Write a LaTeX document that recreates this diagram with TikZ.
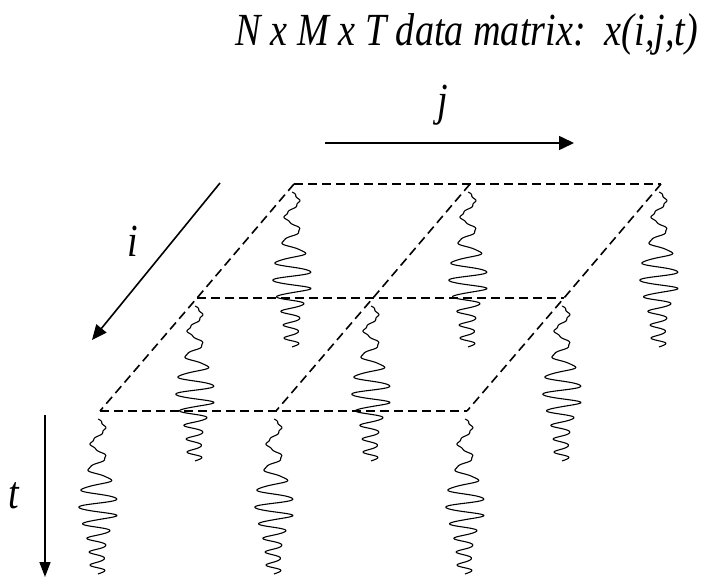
\documentclass[tikz,border=0pt]{standalone}
\usepackage{fontspec}
\setmainfont{Liberation Serif}
\usetikzlibrary{arrows.meta}
\begin{document}
\begin{tikzpicture}[x=1pt,y=-1pt,
  declare function={env(\s)=7+13*exp(-(\s-0.55)*(\s-0.55)/0.035);
                    ph(\s)=360*(4*\s+4.5*\s*\s);},
  griddash/.style={dash pattern=on 9pt off 5pt, line width=1.6pt},
  axisline/.style={line width=1.6pt},
  lab/.style={font=\fontsize{46}{55}\selectfont\itshape, inner sep=0pt, xscale=0.83, anchor=base},
  sig/.style={line width=1.1pt, line join=round}]
\useasboundingbox (0,0) rectangle (702,578);
% grid vertices
\coordinate (v00) at (294,184);
\coordinate (v01) at (470,184);
\coordinate (v02) at (661,184);
\coordinate (v10) at (197,298);
\coordinate (v11) at (373,298);
\coordinate (v12) at (564,298);
\coordinate (v20) at (100,411);
\coordinate (v21) at (276,411);
\coordinate (v22) at (467,411);
% signals
\foreach \v in {v00,v01,v02,v10,v11,v12,v20,v21,v22}{
  \draw[sig, shift={(\v)}] plot[domain=0:1, samples=260, variable=\s, smooth]
   ({-2 + env(\s)*sin(ph(\s)) + 1.0*sin(360*23*\s)}, {8+155*\s});
}
% dashed grid
\draw[griddash] (v00) -- (v01) -- (v02);
\draw[griddash] (v10) -- (v11) -- (v12);
\draw[griddash] (v20) -- (v21) -- (v22);
\draw[griddash] (v00) -- (v10) -- (v20);
\draw[griddash] (v01) -- (v11) -- (v21);
\draw[griddash] (v02) -- (v12) -- (v22);
% axes
\coordinate (ja) at (325,143); \coordinate (jb) at (574,143);
\coordinate (ia) at (220,183); \coordinate (ib) at (92,340);
\coordinate (ta) at (45,415);  \coordinate (tb) at (45,577);
\draw[axisline,-{Triangle[length=15pt,width=14pt]}] (ja) -- (jb);
\draw[axisline,-{Triangle[length=15pt,width=13pt]}] (ia) -- (ib);
\draw[axisline,-{Triangle[length=15pt,width=11pt]}] (ta) -- (tb);
% labels
\node[lab] (title) at (467,46) {N x M x T data matrix:\ \ x(i,j,t)};
\node[lab] (jlab) at (443,116) {j};
\node[lab] (ilab) at (133,256) {i};
\node[lab] (tlab) at (14,508) {t};
\end{tikzpicture}
\end{document}
